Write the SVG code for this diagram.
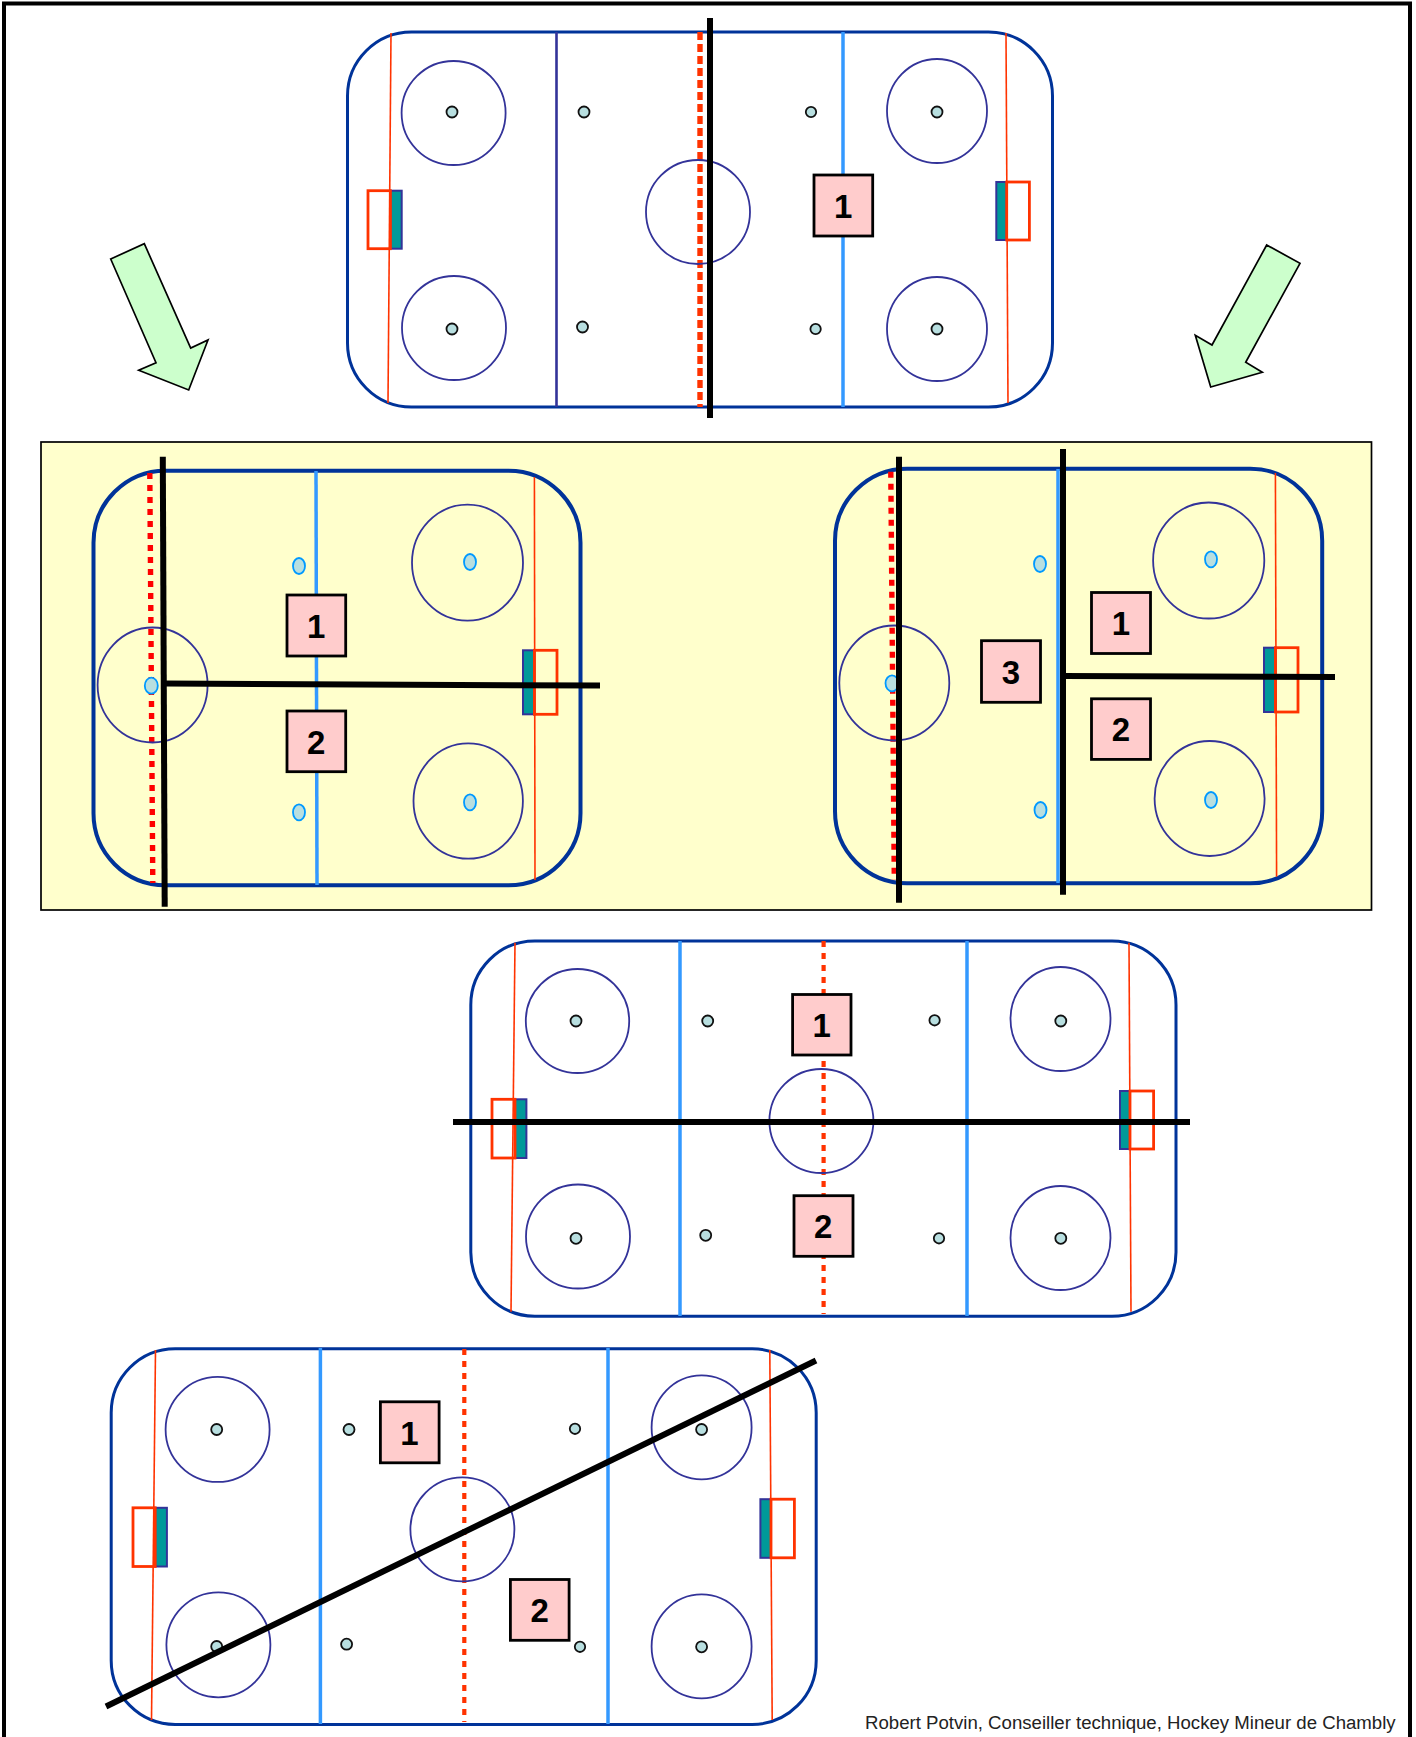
<svg xmlns="http://www.w3.org/2000/svg" width="1416" height="1737" viewBox="0 0 1416 1737">
<style>
.bg{fill:#fff}
.rink{fill:none;stroke:#003399;stroke-width:3}
.rink.y{stroke-width:4}
.goalline{fill:none;stroke:#ff3300;stroke-width:1.6}
.bluel{fill:none;stroke:#3399ff;stroke-width:3.5}
.darkl{fill:none;stroke:#333399;stroke-width:2.6}
.center{fill:none;stroke:#ff3300;stroke-width:4.2;stroke-dasharray:6 6}
.center2{fill:none;stroke:#ff0000;stroke-width:5.4;stroke-dasharray:6 6}
.circle{fill:none;stroke:#333399;stroke-width:1.8}
.dot{fill:#b8dfe0;stroke:#111;stroke-width:1.8}
.dotb{fill:#b8dfe0;stroke:#0099ff;stroke-width:1.8}
.crease{fill:#009999;stroke:#333399;stroke-width:2}
.net{fill:none;stroke:#ff3300;stroke-width:2.8}
.box{fill:#ffcccc;stroke:#000;stroke-width:2.8}
.num{font-family:"Liberation Sans",Arial,sans-serif;font-weight:bold;font-size:33px;fill:#000;text-anchor:middle}
.cut{fill:none;stroke:#000;stroke-width:6}
.arrow{fill:#ccffcc;stroke:#000;stroke-width:1.7;stroke-linejoin:miter}
.credit{font-family:"Liberation Sans",Arial,sans-serif;font-size:18.63px;fill:#222}
</style>
<rect class="bg" width="1416" height="1737"/>
<rect id="frame" x="4" y="3.5" width="1406" height="1745" fill="none" stroke="#000" stroke-width="4"/>
<rect id="panel" x="41" y="442" width="1330.5" height="468" fill="#ffffcc" stroke="#000" stroke-width="1.7"/>

<g id="arrow-left"><polygon class="arrow" points="110.7,259 144.3,243.7 190.7,348 208,340 188.7,390 138.7,370.3 156,362.7"/></g>
<g id="arrow-right"><polygon class="arrow" points="1266.7,245 1300,263.3 1245.7,362.3 1262.3,372.3 1210.7,387 1195.3,335.3 1212,345"/></g>

<g id="rink-top">
<rect class="rink" x="347.5" y="32" width="705" height="375" rx="64" ry="64"/>
<line class="goalline" x1="391" y1="33" x2="388" y2="403"/>
<line class="goalline" x1="1006" y1="33" x2="1008" y2="403"/>
<line class="darkl" x1="556.5" y1="32" x2="556.5" y2="407"/>
<line class="bluel" x1="843" y1="32" x2="843" y2="407"/>
<line class="center" x1="700" y1="32" x2="700" y2="407" style="stroke-width:5.4;stroke-dasharray:8 4"/>
<ellipse class="circle" cx="453.6" cy="113" rx="52" ry="52"/>
<ellipse class="circle" cx="454" cy="328" rx="52" ry="52"/>
<ellipse class="circle" cx="937" cy="111" rx="50" ry="52"/>
<ellipse class="circle" cx="937" cy="329" rx="50" ry="52"/>
<ellipse class="circle" cx="698" cy="212" rx="52" ry="52"/>
<circle class="dot" cx="452" cy="112" r="5.5"/><circle class="dot" cx="584" cy="112" r="5.5"/>
<circle class="dot" cx="811" cy="112" r="5.2"/><circle class="dot" cx="937" cy="112" r="5.5"/>
<circle class="dot" cx="452" cy="329" r="5.5"/><circle class="dot" cx="582.5" cy="327" r="5.5"/>
<circle class="dot" cx="815.6" cy="329" r="5.2"/><circle class="dot" cx="937" cy="329" r="5.5"/>
<rect class="crease" x="390.4" y="190.7" width="11.3" height="58"/><rect class="net" x="368" y="190.7" width="22.4" height="58"/>
<rect class="crease" x="996.3" y="182" width="10.4" height="58"/><rect class="net" x="1006.7" y="182" width="22.7" height="58"/>
<rect class="box" x="814" y="175" width="58.7" height="61"/><text class="num" x="843.3" y="217.5">1</text>
<line class="cut" x1="710" y1="18" x2="710" y2="418"/>
</g>

<g id="rink-left">
<rect class="rink y" x="93.5" y="470.7" width="487" height="414.6" rx="72" ry="72"/>
<line class="goalline" x1="534.4" y1="477" x2="535" y2="880"/>
<line class="bluel" x1="316" y1="471" x2="317" y2="885"/>
<line class="center2" x1="149.8" y1="473" x2="152.8" y2="883"/>
<ellipse class="circle" cx="467.5" cy="562.7" rx="55.5" ry="58"/>
<ellipse class="circle" cx="468.2" cy="801" rx="54.7" ry="57.7"/>
<ellipse class="circle" cx="152.6" cy="685" rx="55" ry="57.5"/>
<ellipse class="dotb" cx="299" cy="566" rx="6" ry="8"/><ellipse class="dotb" cx="299" cy="812.3" rx="6" ry="8"/>
<ellipse class="dotb" cx="470" cy="562" rx="6" ry="8"/><ellipse class="dotb" cx="470" cy="802.3" rx="6" ry="8"/>
<ellipse class="dotb" cx="151.3" cy="685.7" rx="6.5" ry="8"/>
<rect class="crease" x="523" y="650.3" width="11.4" height="64"/><rect class="net" x="534.4" y="650.3" width="22.6" height="64"/>
<rect class="box" x="287" y="595" width="58.7" height="61"/><text class="num" x="316.3" y="637.5">1</text>
<rect class="box" x="287" y="711" width="58.7" height="60.7"/><text class="num" x="316.3" y="753.5">2</text>
<line class="cut" x1="162.8" y1="456.7" x2="164.7" y2="906.7"/>
<line class="cut" x1="164" y1="683.6" x2="600" y2="685.6"/>
</g>

<g id="rink-right">
<rect class="rink y" x="835" y="468.7" width="487.2" height="414.6" rx="72" ry="72"/>
<line class="goalline" x1="1275.4" y1="473" x2="1276.6" y2="876.7"/>
<line class="bluel" x1="1058" y1="469" x2="1058" y2="883"/>
<line class="center2" x1="890.8" y1="471.7" x2="894.3" y2="880"/>
<ellipse class="circle" cx="1208.7" cy="560.5" rx="55.6" ry="58"/>
<ellipse class="circle" cx="1209.6" cy="798.5" rx="55" ry="57.5"/>
<ellipse class="circle" cx="894.3" cy="683" rx="55" ry="57.5"/>
<ellipse class="dotb" cx="1040" cy="564" rx="6" ry="8"/><ellipse class="dotb" cx="1040.5" cy="810" rx="6" ry="8"/>
<ellipse class="dotb" cx="1211" cy="559.3" rx="6" ry="8"/><ellipse class="dotb" cx="1211" cy="800" rx="6" ry="8"/>
<ellipse class="dotb" cx="892" cy="683.3" rx="6.5" ry="8"/>
<rect class="crease" x="1264" y="647.7" width="11.4" height="64.3"/><rect class="net" x="1275.4" y="647.7" width="22.6" height="64.3"/>
<rect class="box" x="1091.5" y="592.5" width="59" height="61"/><text class="num" x="1121" y="634.5">1</text>
<rect class="box" x="1091.5" y="698.8" width="59" height="60.6"/><text class="num" x="1121" y="740.5">2</text>
<rect class="box" x="981.5" y="640.7" width="59" height="61.6"/><text class="num" x="1011" y="683.5">3</text>
<line class="cut" x1="899" y1="456.7" x2="899" y2="902.7"/>
<line class="cut" x1="1063" y1="449" x2="1063" y2="894.7"/>
<line class="cut" x1="1063" y1="676" x2="1335" y2="677"/>
</g>

<g id="rink-middle">
<rect class="rink" x="470.8" y="940.9" width="705.2" height="375.3" rx="64" ry="64"/>
<line class="goalline" x1="515" y1="942.7" x2="511" y2="1311.7"/>
<line class="goalline" x1="1129" y1="942.7" x2="1131" y2="1311.7"/>
<line class="bluel" x1="680" y1="941" x2="680" y2="1316"/>
<line class="bluel" x1="967" y1="941" x2="967" y2="1316"/>
<line class="center" x1="823.6" y1="941" x2="823.6" y2="1314"/>
<ellipse class="circle" cx="577.5" cy="1021" rx="51.7" ry="52"/>
<ellipse class="circle" cx="578" cy="1236.5" rx="52" ry="52"/>
<ellipse class="circle" cx="1060.5" cy="1019" rx="50" ry="52"/>
<ellipse class="circle" cx="1060.5" cy="1238" rx="50" ry="52"/>
<ellipse class="circle" cx="821.4" cy="1121" rx="52" ry="52"/>
<circle class="dot" cx="576" cy="1021" r="5.5"/><circle class="dot" cx="707.7" cy="1021" r="5.5"/>
<circle class="dot" cx="934.6" cy="1020.3" r="5.2"/><circle class="dot" cx="1060.8" cy="1021" r="5.5"/>
<circle class="dot" cx="576" cy="1238.3" r="5.5"/><circle class="dot" cx="705.7" cy="1235.3" r="5.5"/>
<circle class="dot" cx="939" cy="1238.3" r="5.2"/><circle class="dot" cx="1060.8" cy="1238.3" r="5.5"/>
<rect class="crease" x="515" y="1099.3" width="11.4" height="58.7"/><rect class="net" x="492" y="1099.3" width="23" height="58.7"/>
<rect class="crease" x="1120" y="1091" width="10" height="58"/><rect class="net" x="1130" y="1091" width="23.6" height="58"/>
<rect class="box" x="792.6" y="994.5" width="58.4" height="60.5"/><text class="num" x="821.6" y="1036.5">1</text>
<rect class="box" x="794" y="1195.7" width="59" height="60.6"/><text class="num" x="823.3" y="1238">2</text>
<line class="cut" x1="453" y1="1122" x2="1190" y2="1122"/>
</g>

<g id="rink-bottom">
<rect class="rink" x="111.2" y="1348.8" width="705" height="375.6" rx="64" ry="64"/>
<line class="goalline" x1="155.5" y1="1350" x2="151.5" y2="1720"/>
<line class="goalline" x1="769.8" y1="1350" x2="772.2" y2="1720"/>
<line class="bluel" x1="320.4" y1="1348" x2="320.4" y2="1724"/>
<line class="bluel" x1="608" y1="1348" x2="608" y2="1724"/>
<line class="center" x1="464.3" y1="1349" x2="464.3" y2="1722"/>
<ellipse class="circle" cx="217.6" cy="1429.4" rx="52" ry="52.5"/>
<ellipse class="circle" cx="218.4" cy="1644.8" rx="52" ry="52.5"/>
<ellipse class="circle" cx="701.6" cy="1427.4" rx="50" ry="52"/>
<ellipse class="circle" cx="701.6" cy="1646.4" rx="50" ry="52"/>
<ellipse class="circle" cx="462.4" cy="1529.4" rx="52" ry="52"/>
<circle class="dot" cx="216.7" cy="1429.5" r="5.5"/><circle class="dot" cx="349" cy="1429.5" r="5.5"/>
<circle class="dot" cx="575" cy="1428.8" r="5.2"/><circle class="dot" cx="701.6" cy="1429.5" r="5.5"/>
<circle class="dot" cx="216.7" cy="1646.5" r="5.5"/><circle class="dot" cx="346.6" cy="1644.2" r="5.5"/>
<circle class="dot" cx="580" cy="1646.8" r="5.2"/><circle class="dot" cx="701.6" cy="1646.8" r="5.5"/>
<rect class="crease" x="155.2" y="1507.8" width="11.7" height="58.7"/><rect class="net" x="133" y="1507.8" width="22.2" height="58.7"/>
<rect class="crease" x="760.4" y="1499.2" width="10.6" height="58.6"/><rect class="net" x="771" y="1499.2" width="23.4" height="58.6"/>
<rect class="box" x="380.4" y="1401.8" width="58.7" height="61"/><text class="num" x="409.4" y="1444.5">1</text>
<rect class="box" x="510.4" y="1579.5" width="58.7" height="60.8"/><text class="num" x="539.6" y="1622">2</text>
<line class="cut" x1="106" y1="1706.5" x2="816" y2="1360.5"/>
</g>

<text id="credit" class="credit" x="865" y="1729">Robert Potvin, Conseiller technique, Hockey Mineur de Chambly</text>
</svg>
